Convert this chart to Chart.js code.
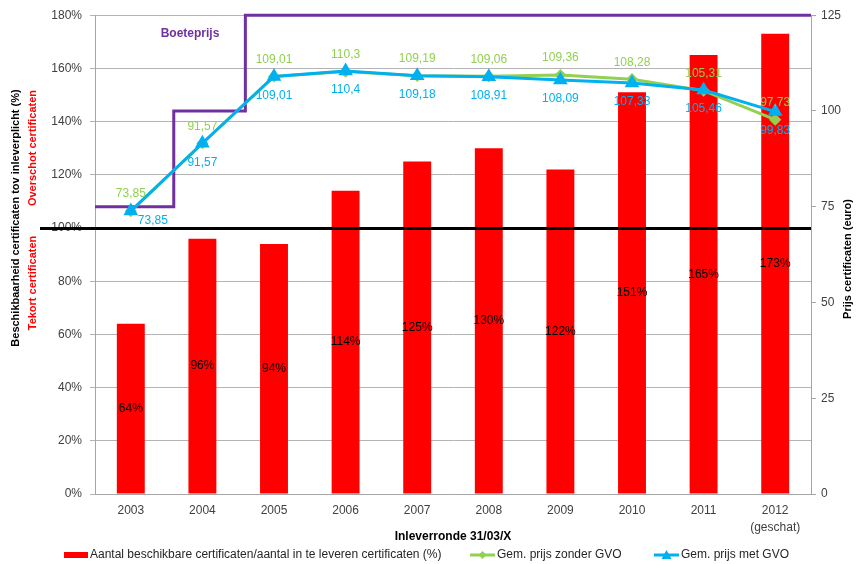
<!DOCTYPE html>
<html>
<head>
<meta charset="utf-8">
<script src="https://cdn.jsdelivr.net/npm/chart.js@4/dist/chart.umd.min.js"></script>
<style>
  html, body { margin: 0; padding: 0; background: #fff; }
  #wrap { width: 861px; height: 564px; }
</style>
</head>
<body>
<div id="wrap"><canvas id="chart" width="861" height="564"></canvas></div>
<script>
// Data
const jaren = ['2003', '2004', '2005', '2006', '2007', '2008', '2009', '2010', '2011', ['2012', '(geschat)']];
const beschikbaarheid = [64, 96, 94, 114, 125, 130, 122, 151, 165, 173];
const prijsZonderGvo = [73.85, 91.57, 109.01, 110.3, 109.19, 109.06, 109.36, 108.28, 105.31, 97.73];
const prijsMetGvo = [73.85, 91.57, 109.01, 110.4, 109.18, 108.91, 108.09, 107.33, 105.46, 99.83];
const boeteJaren = [2002.5, 2003.6, 2004.6, 2012.5];
const boetePrijs = [75, 100, 125, 125];
const pctMax = 180;
const euroMax = 125;

const FONT = '"Liberation Sans", Arial, sans-serif';
Chart.defaults.font.family = FONT;
Chart.defaults.font.size = 12;
Chart.defaults.color = '#404040';

const fmt = v => String(v).replace('.', ',');

function vertText(ctx, text, x, y, color) {
    ctx.save();
    ctx.translate(x, y);
    ctx.rotate(-Math.PI / 2);
    ctx.fillStyle = color;
    ctx.font = 'bold 11px ' + FONT;
    ctx.textAlign = 'center';
    ctx.textBaseline = 'middle';
    ctx.fillText(text, 0, 0);
    ctx.restore();
}

const overlay = {
    id: 'overlay',
    afterDatasetsDraw(chart) {
        const ctx = chart.ctx;
        const area = chart.chartArea;
        const y = chart.scales.y;

        // 100% reference line
        ctx.save();
        ctx.strokeStyle = '#000';
        ctx.lineWidth = 3;
        ctx.beginPath();
        const y100 = Math.round(y.getPixelForValue(100)) + 0.5;
        ctx.moveTo(40, y100);
        ctx.lineTo(area.right, y100);
        ctx.stroke();

        ctx.textAlign = 'center';
        ctx.textBaseline = 'middle';
        ctx.font = '12px ' + FONT;

        // bar labels in the middle of each bar
        ctx.fillStyle = '#000';
        chart.getDatasetMeta(0).data.forEach((bar, i) => {
            ctx.fillText(beschikbaarheid[i] + '%', bar.x, (bar.y + bar.base) / 2);
        });

        // price labels
        ctx.fillStyle = '#92D050';
        chart.getDatasetMeta(2).data.forEach((pt, i) => {
            ctx.fillText(fmt(prijsZonderGvo[i]), pt.x, pt.y - 17);
        });
        ctx.fillStyle = '#00B0F0';
        chart.getDatasetMeta(3).data.forEach((pt, i) => {
            // first label sits to the right, clear of the 100% line
            const dx = i === 0 ? 22 : 0;
            const dy = i === 0 ? 10 : 19;
            ctx.fillText(fmt(prijsMetGvo[i]), pt.x + dx, pt.y + dy);
        });

        // Boeteprijs label
        ctx.fillStyle = '#7030A0';
        ctx.font = 'bold 12px ' + FONT;
        ctx.fillText('Boeteprijs', 190, 34);
        ctx.restore();
    },
    afterDraw(chart) {
        const ctx = chart.ctx;
        const area = chart.chartArea;

        vertText(ctx, 'Beschikbaarheid certificaten tov inleverplicht (%)', 16, 218, '#000');
        vertText(ctx, 'Overschot certificaten', 33, 148, '#FF0000');
        vertText(ctx, 'Tekort certificaten', 33, 283, '#FF0000');
        vertText(ctx, 'Prijs certificaten (euro)', 848, 259, '#000');

        ctx.save();
        ctx.fillStyle = '#000';
        ctx.font = 'bold 12px ' + FONT;
        ctx.textAlign = 'center';
        ctx.textBaseline = 'middle';
        ctx.fillText('Inleverronde 31/03/X', (area.left + area.right) / 2, 537);

        // legend
        const ly = 555;
        ctx.font = '12px ' + FONT;
        ctx.textAlign = 'left';
        ctx.fillStyle = '#FF0000';
        ctx.fillRect(64, ly - 3, 24, 6);
        ctx.fillStyle = '#262626';
        ctx.fillText('Aantal beschikbare certificaten/aantal in te leveren certificaten (%)', 90, ly);

        ctx.strokeStyle = '#92D050';
        ctx.lineWidth = 3;
        ctx.beginPath();
        ctx.moveTo(470, ly);
        ctx.lineTo(495, ly);
        ctx.stroke();
        ctx.fillStyle = '#92D050';
        ctx.beginPath();
        ctx.moveTo(482.5, ly - 4);
        ctx.lineTo(486.5, ly);
        ctx.lineTo(482.5, ly + 4);
        ctx.lineTo(478.5, ly);
        ctx.closePath();
        ctx.fill();
        ctx.fillStyle = '#262626';
        ctx.fillText('Gem. prijs zonder GVO', 497, ly);

        ctx.strokeStyle = '#00B0F0';
        ctx.beginPath();
        ctx.moveTo(654, ly);
        ctx.lineTo(679, ly);
        ctx.stroke();
        ctx.fillStyle = '#00B0F0';
        ctx.beginPath();
        ctx.moveTo(666.5, ly - 5);
        ctx.lineTo(671.5, ly + 4);
        ctx.lineTo(661.5, ly + 4);
        ctx.closePath();
        ctx.fill();
        ctx.fillStyle = '#262626';
        ctx.fillText('Gem. prijs met GVO', 681, ly);
        ctx.restore();
    }
};

const ctx = document.getElementById('chart').getContext('2d');
new Chart(ctx, {
    type: 'bar',
    data: {
        labels: jaren,
        datasets: [
            {
                label: 'Aantal beschikbare certificaten/aantal in te leveren certificaten (%)',
                data: beschikbaarheid,
                backgroundColor: '#FF0000',
                barPercentage: 0.39,
                categoryPercentage: 1,
                grouped: false,
                xAxisID: 'x',
                yAxisID: 'y',
                order: 4
            },
            {
                type: 'line',
                label: 'Boeteprijs',
                data: boeteJaren.map((j, i) => ({ x: j, y: boetePrijs[i] })),
                xAxisID: 'xb',
                yAxisID: 'y1',
                borderColor: '#7030A0',
                borderWidth: 3,
                stepped: 'before',
                pointRadius: 0,
                clip: false,
                order: 3
            },
            {
                type: 'line',
                label: 'Gem. prijs zonder GVO',
                data: prijsZonderGvo,
                xAxisID: 'x',
                yAxisID: 'y1',
                borderColor: '#92D050',
                backgroundColor: '#92D050',
                borderWidth: 3,
                pointStyle: 'rectRot',
                pointRadius: 4,
                tension: 0,
                order: 2
            },
            {
                type: 'line',
                label: 'Gem. prijs met GVO',
                data: prijsMetGvo,
                xAxisID: 'x',
                yAxisID: 'y1',
                borderColor: '#00B0F0',
                backgroundColor: '#00B0F0',
                borderWidth: 3,
                pointStyle: 'triangle',
                pointRadius: 5.5,
                tension: 0,
                order: 1
            }
        ]
    },
    options: {
        responsive: false,
        animation: false,
        events: [],
        layout: { padding: { top: 14, left: 0, right: 0, bottom: 0 } },
        plugins: {
            legend: { display: false },
            tooltip: { enabled: false }
        },
        scales: {
            x: {
                type: 'category',
                grid: { drawOnChartArea: false, drawTicks: false },
                border: { color: '#a6a6a6' },
                ticks: { padding: 8, font: { size: 12, lineHeight: 1.4 }, maxRotation: 0 },
                afterFit: scale => { scale.height = 70; }
            },
            xb: {
                type: 'linear',
                display: false,
                offset: false,
                min: 2002.5,
                max: 2012.5
            },
            y: {
                position: 'left',
                min: 0,
                max: pctMax,
                ticks: { stepSize: 20, padding: 8, callback: v => v + '%' },
                grid: { color: '#b4b4b4', tickLength: 5 },
                border: { color: '#a6a6a6' },
                afterFit: scale => { scale.width = 95; }
            },
            y1: {
                position: 'right',
                min: 0,
                max: euroMax,
                ticks: { stepSize: 25, padding: 5 },
                grid: { drawOnChartArea: false, tickLength: 5, color: '#a6a6a6' },
                border: { color: '#a6a6a6' },
                afterFit: scale => { scale.width = 50; }
            }
        }
    },
    plugins: [overlay]
});
</script>
</body>
</html>
